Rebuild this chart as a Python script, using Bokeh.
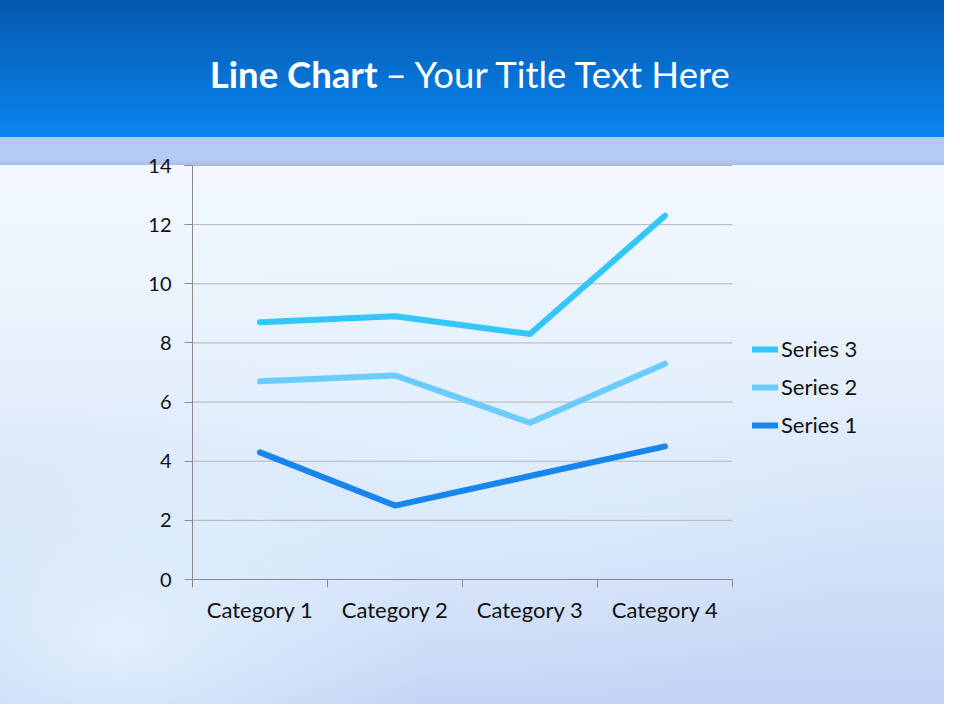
from bokeh.plotting import figure
from bokeh.models import Range1d, FixedTicker, Legend, LegendItem, Label
from bokeh.embed import file_html
from bokeh.resources import INLINE

# ---- data ----
categories = ["Category 1", "Category 2", "Category 3", "Category 4"]
series_names = ["Series 1", "Series 2", "Series 3"]
series1 = [4.3, 2.5, 3.5, 4.5]
series2 = [2.4, 4.4, 1.8, 2.8]
series3 = [2.0, 2.0, 3.0, 5.0]
y_ticks = [0, 2, 4, 6, 8, 10, 12, 14]
y_max = 14
title_bold = "Line Chart"
title_rest = "\u2013 Your Title Text Here"

# stacked line chart: cumulative values
stack1 = list(series1)
stack2 = [round(a + b, 2) for a, b in zip(stack1, series2)]
stack3 = [round(a + b, 2) for a, b in zip(stack2, series3)]
stacks = [stack1, stack2, stack3]
colors = ["#1785ee", "#6bcbfb", "#33c6f9"]

xs = [i + 1 for i in range(len(categories))]

# ---- layout (pixels) ----
FONT = "Lato"
W, H = 944, 704
PLOT_L, PLOT_R, PLOT_T, PLOT_B = 192, 732, 165, 579   # chart area of the slide
px_per_y = (PLOT_B - PLOT_T) / y_max
y_top = PLOT_B / px_per_y
n = len(categories)
px_per_x = (PLOT_R - PLOT_L) / n
x_right = 0.5 + (W - PLOT_L) / px_per_x

p = figure(width=W, height=H, output_backend="svg", toolbar_location=None,
           x_range=Range1d(0.5, x_right), y_range=Range1d(0, y_top),
           min_border_left=PLOT_L, min_border_right=0,
           min_border_top=0, min_border_bottom=H - PLOT_B)
p.title.visible = False

p.border_fill_color = None
p.background_fill_color = None
p.outline_line_color = None
p.styles = {
    "background": (
        "linear-gradient(to bottom, #0459ad 0px, #0a85f0 137px, "
        "#b3c8f4 137px, #b5caf5 159px, #a9bde8 165px, transparent 165px), "
        "radial-gradient(ellipse 320px 200px at 120px 640px, rgba(232,246,255,0.75), rgba(232,246,255,0) 100%), "
        "radial-gradient(ellipse 420px 260px at 470px 470px, rgba(225,242,255,0.55), rgba(225,242,255,0) 100%), "
        "linear-gradient(to bottom, #f3f8fe 165px, #e6f0fb 370px, #d3e1f8 550px, #c4d2f5 704px)"
    )
}

# grid (drawn only over the chart area, like the slide's plot area)
p.xgrid.visible = False
p.ygrid.visible = False
p.segment(x0=[0.5] * len(y_ticks), x1=[n + 0.5] * len(y_ticks), y0=y_ticks, y1=y_ticks,
          line_color="#b4b4b4", line_width=1, level="underlay")

# y axis
p.yaxis.ticker = FixedTicker(ticks=y_ticks, minor_ticks=[])
p.yaxis.bounds = (0, y_max)
p.yaxis.axis_line_color = "#8a8a8a"
p.yaxis.major_tick_line_color = "#8a8a8a"
p.yaxis.major_tick_out = 8
p.yaxis.major_tick_in = 0
p.yaxis.minor_tick_line_color = None
p.yaxis.major_label_text_font = FONT
p.yaxis.major_label_text_font_size = "20px"
p.yaxis.major_label_text_color = "#111111"
p.yaxis.major_label_standoff = 13

# x axis
bounds = [i + 0.5 for i in range(n + 1)]
p.xaxis.ticker = FixedTicker(ticks=xs, minor_ticks=bounds)
p.xaxis.bounds = (0.5, n + 0.5)
p.xaxis.major_label_overrides = {x: c for x, c in zip(xs, categories)}
p.xaxis.axis_line_color = "#8a8a8a"
p.xaxis.major_tick_line_color = None
p.xaxis.major_tick_out = 8
p.xaxis.minor_tick_line_color = "#8a8a8a"
p.xaxis.minor_tick_out = 8
p.xaxis.minor_tick_in = 0
p.xaxis.major_label_text_font = FONT
p.xaxis.major_label_text_font_size = "22px"
p.xaxis.major_label_text_color = "#111111"
p.xaxis.major_label_standoff = 8

renderers = []
for ys, col in zip(stacks, colors):
    r = p.line(xs, ys, line_width=6, line_color=col, line_cap="round", line_join="round")
    renderers.append(r)

items = [LegendItem(label=series_names[i], renderers=[renderers[i]]) for i in [2, 1, 0]]
legend = Legend(items=items, location=(560, 141))
legend.background_fill_alpha = 0
legend.border_line_color = None
legend.padding = 0
legend.margin = 0
legend.glyph_width = 26
legend.glyph_height = 26
legend.label_height = 26
legend.spacing = 11
legend.label_standoff = 3
legend.label_text_font = FONT
legend.label_text_font_size = "22px"
legend.label_text_color = "#111111"
p.add_layout(legend)

# title
t1 = Label(x=377, y=73, x_units="canvas", y_units="canvas", text=title_bold,
           text_font=FONT, text_font_size="36.5px", text_font_style="bold",
           text_color="white", text_align="right", text_baseline="alphabetic")
t2 = Label(x=385, y=73, x_units="canvas", y_units="canvas", text=title_rest,
           text_font=FONT, text_font_size="36.5px", text_font_style="normal",
           text_color="white", text_align="left", text_baseline="alphabetic")
p.add_layout(t1)
p.add_layout(t2)

open("out.html", "w").write(file_html(p, INLINE))
